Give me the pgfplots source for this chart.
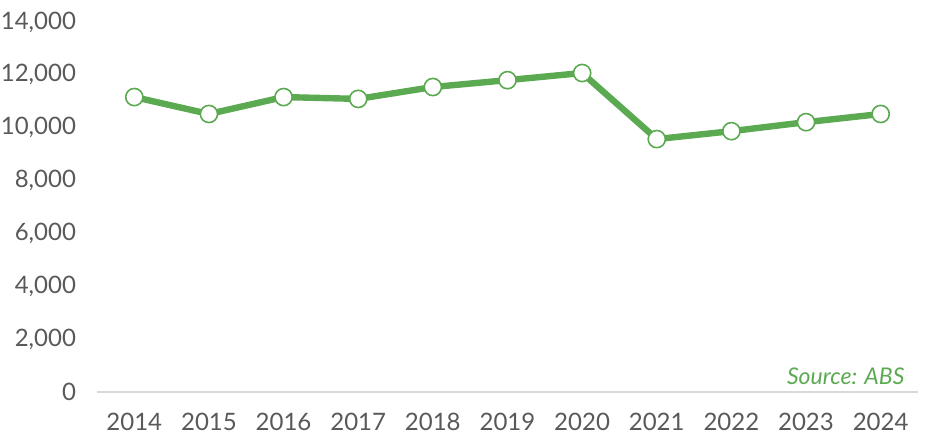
\documentclass[border=0pt]{standalone}
\usepackage{fontspec}
\setmainfont{Lato}
\usepackage{pgfplots}
\pgfplotsset{compat=1.18}
\definecolor{lgreen}{HTML}{5BAA52}
\definecolor{tgray}{HTML}{595959}
\definecolor{agray}{HTML}{D9D9D9}
\begin{document}
\begin{tikzpicture}
\begin{axis}[
  name=ax,
  scale only axis,
  width=410.5pt, height=185pt,
  xmin=2013.5, xmax=2024.5,
  ymin=0, ymax=14000,
  axis x line*=bottom,
  axis y line*=left,
  x axis line style={agray, line width=1pt, -},
  y axis line style={draw=none},
  xtick={2014,...,2024},
  ytick={0,2000,...,14000},
  scaled y ticks=false,
  major tick length=0pt,
  /pgf/number format/assume math mode=true,
  xticklabel style={/pgf/number format/set thousands separator={}, font=\fontsize{12}{14}\selectfont, text=tgray, yshift=-7pt},
  yticklabel style={/pgf/number format/fixed, /pgf/number format/1000 sep={,}, font=\fontsize{12}{14}\selectfont, text=tgray, xshift=-7pt},
  clip=false,
]
\addplot[lgreen, line width=3.2pt, mark=*, mark size=4.3pt,
  mark options={fill=white, draw=lgreen, line width=0.8pt}]
  coordinates {
  (2014,11160) (2015,10520) (2016,11160) (2017,11090) (2018,11540)
  (2019,11800) (2020,12070) (2021,9570) (2022,9870) (2023,10210) (2024,10520)
  };
\node[anchor=south east, text=lgreen, font=\itshape\fontsize{11.5}{13}\selectfont, inner sep=0pt]
  at (rel axis cs:0.984,0.02) {Source: ABS};
\end{axis}
\pgfresetboundingbox
\path ([xshift=-48.5pt, yshift=-21.5pt]ax.south west) rectangle ([xshift=3.5pt, yshift=11pt]ax.north east);
\end{tikzpicture}
\end{document}
